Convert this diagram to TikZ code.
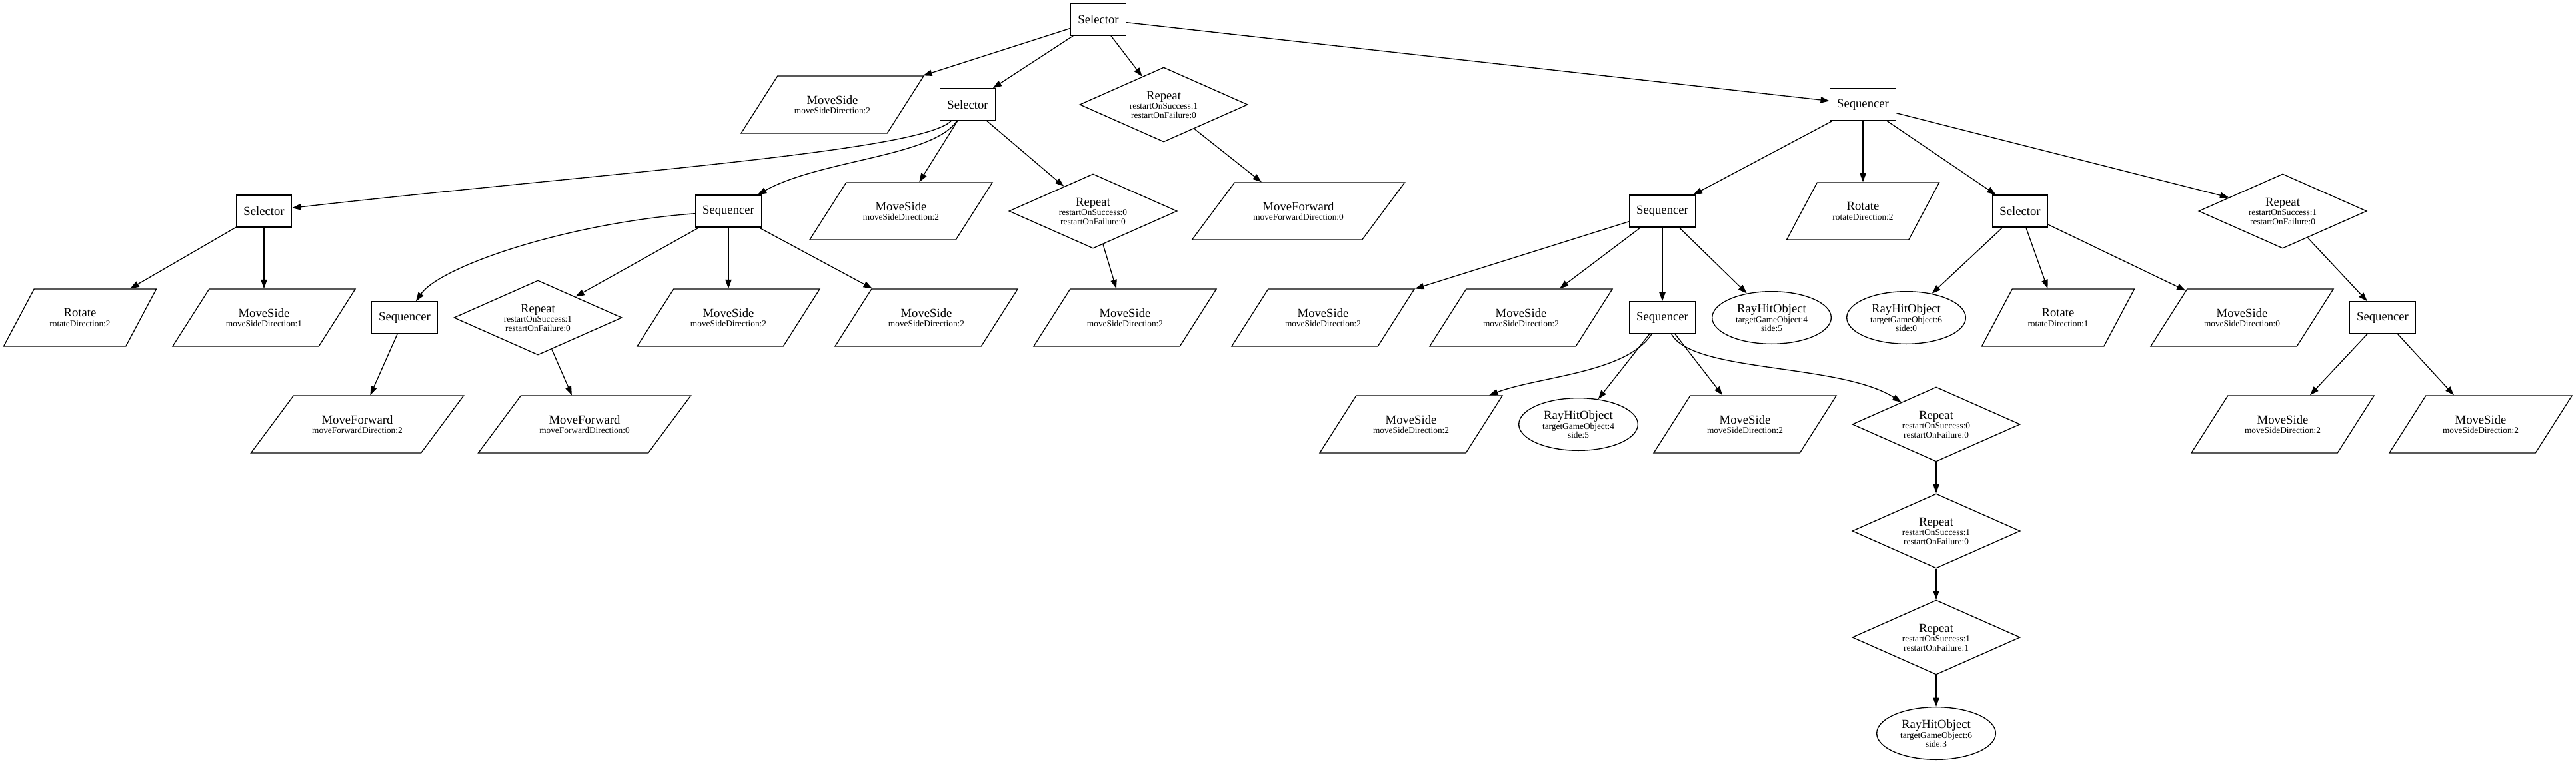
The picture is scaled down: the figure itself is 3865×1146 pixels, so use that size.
\documentclass[tikz,border=0pt]{standalone}
\usepackage{fontspec}
\setmainfont{Liberation Serif}
\usetikzlibrary{shapes.geometric,arrows.meta}
\newcommand{\bigt}[1]{{\fontsize{14}{14}\selectfont #1}}
\newcommand{\plab}[2]{\vbox to 64.5pt{\vfil\halign{\hfil##\hfil\cr\bigt{#1}\cr\noalign{\vskip1pt}#2\cr}\vfil}}
\tikzset{
  gnode/.style={draw, line width=1pt, align=center, inner sep=0pt, font=\fontsize{10}{10}\selectfont},
  pnode/.style={draw, line width=1pt, inner sep=0pt, font=\fontsize{10}{10}\selectfont, trapezium, trapezium stretches body},
  boxn/.style={gnode, rectangle, minimum height=36pt, minimum width=54pt, inner xsep=8pt},
  diam/.style={gnode, diamond, aspect=2.25, minimum width=189pt, minimum height=84pt},
  ell/.style={gnode, ellipse, minimum width=134pt, minimum height=59pt},
  paraR/.style={pnode, trapezium left angle=62, trapezium right angle=118, minimum width=171.75pt},
  paraM/.style={pnode, trapezium left angle=57.5, trapezium right angle=122.5, minimum width=205.5pt},
  paraF/.style={pnode, trapezium left angle=53.4, trapezium right angle=126.6, minimum width=239.25pt},
  conn/.style={line width=1pt, -{Triangle[length=10pt,width=7pt]}}
}
\begin{document}
\begin{tikzpicture}[x=0.75pt,y=-0.75pt]
\fill[white] (0,0) rectangle (3865,1146);
\useasboundingbox (0,0) rectangle (3865,1146);
% rank 0
\node[boxn] (n0) at (1648,29) {\bigt{Selector}};
% rank 1
\node[paraM] (n1) at (1249,157) {\plab{MoveSide}{moveSideDirection:2}};
\node[boxn] (n2) at (1452,157) {\bigt{Selector}};
\node[diam] (n3) at (1746,157) {\bigt{Repeat}\\[1pt]restartOnSuccess:1\\restartOnFailure:0};
\node[boxn] (n4) at (2795,157) {\bigt{Sequencer}};
% rank 2
\node[boxn] (n5) at (396,317) {\bigt{Selector}};
\node[boxn] (n6) at (1093,317) {\bigt{Sequencer}};
\node[paraM] (n7) at (1352,317) {\plab{MoveSide}{moveSideDirection:2}};
\node[diam] (n8) at (1640,317) {\bigt{Repeat}\\[1pt]restartOnSuccess:0\\restartOnFailure:0};
\node[paraF] (n9) at (1948,317) {\plab{MoveForward}{moveForwardDirection:0}};
\node[boxn] (n10) at (2494,317) {\bigt{Sequencer}};
\node[paraR] (n11) at (2795,317) {\plab{Rotate}{rotateDirection:2}};
\node[boxn] (n12) at (3031,317) {\bigt{Selector}};
\node[diam] (n13) at (3425,317) {\bigt{Repeat}\\[1pt]restartOnSuccess:1\\restartOnFailure:0};
% rank 3
\node[paraR] (n14) at (120,477) {\plab{Rotate}{rotateDirection:2}};
\node[paraM] (n15) at (396,477) {\plab{MoveSide}{moveSideDirection:1}};
\node[boxn] (n16) at (607,477) {\bigt{Sequencer}};
\node[diam] (n17) at (807,477) {\bigt{Repeat}\\[1pt]restartOnSuccess:1\\restartOnFailure:0};
\node[paraM] (n18) at (1093,477) {\plab{MoveSide}{moveSideDirection:2}};
\node[paraM] (n19) at (1390,477) {\plab{MoveSide}{moveSideDirection:2}};
\node[paraM] (n20) at (1688,477) {\plab{MoveSide}{moveSideDirection:2}};
\node[paraM] (n21) at (1985,477) {\plab{MoveSide}{moveSideDirection:2}};
\node[paraM] (n22) at (2282,477) {\plab{MoveSide}{moveSideDirection:2}};
\node[boxn] (n23) at (2494,477) {\bigt{Sequencer}};
\node[ell] (n24) at (2658,477) {\bigt{RayHitObject}\\[1pt]targetGameObject:4\\side:5};
\node[ell] (n25) at (2860,477) {\bigt{RayHitObject}\\[1pt]targetGameObject:6\\side:0};
\node[paraR] (n26) at (3088,477) {\plab{Rotate}{rotateDirection:1}};
\node[paraM] (n27) at (3364,477) {\plab{MoveSide}{moveSideDirection:0}};
\node[boxn] (n28) at (3575,477) {\bigt{Sequencer}};
% rank 4
\node[paraF] (n29) at (536,637) {\plab{MoveForward}{moveForwardDirection:2}};
\node[paraF] (n30) at (877,637) {\plab{MoveForward}{moveForwardDirection:0}};
\node[paraM] (n31) at (2117,637) {\plab{MoveSide}{moveSideDirection:2}};
\node[ell] (n32) at (2368,637) {\bigt{RayHitObject}\\[1pt]targetGameObject:4\\side:5};
\node[paraM] (n33) at (2618,637) {\plab{MoveSide}{moveSideDirection:2}};
\node[diam] (n34) at (2905,637) {\bigt{Repeat}\\[1pt]restartOnSuccess:0\\restartOnFailure:0};
\node[paraM] (n35) at (3425,637) {\plab{MoveSide}{moveSideDirection:2}};
\node[paraM] (n36) at (3722,637) {\plab{MoveSide}{moveSideDirection:2}};
% ranks 5-7
\node[diam] (n37) at (2905,797) {\bigt{Repeat}\\[1pt]restartOnSuccess:1\\restartOnFailure:0};
\node[diam] (n38) at (2905,957) {\bigt{Repeat}\\[1pt]restartOnSuccess:1\\restartOnFailure:1};
\node[ell] (n39) at (2905,1101) {\bigt{RayHitObject}\\[1pt]targetGameObject:6\\side:3};
% edges
\draw[conn] (n0) -- (n1);
\draw[conn] (n0) -- (n2);
\draw[conn] (n0) -- (n3);
\draw[conn] (n0) -- (n4);
\draw[conn] (n2) .. controls (1380,228) and (900,260) .. (n5);
\draw[conn] (n2) .. controls (1400,235) and (1230,240) .. (n6);
\draw[conn] (n2) -- (n7);
\draw[conn] (n2) -- (n8);
\draw[conn] (n3) -- (n9);
\draw[conn] (n4) -- (n10);
\draw[conn] (n4) -- (n11);
\draw[conn] (n4) -- (n12);
\draw[conn] (n4) -- (n13);
\draw[conn] (n5) -- (n14);
\draw[conn] (n5) -- (n15);
\draw[conn] (n6) .. controls (850,335) and (660,400) .. (n16);
\draw[conn] (n6) -- (n17);
\draw[conn] (n6) -- (n18);
\draw[conn] (n6) -- (n19);
\draw[conn] (n8) -- (n20);
\draw[conn] (n10) -- (n21);
\draw[conn] (n10) -- (n22);
\draw[conn] (n10) -- (n23);
\draw[conn] (n10) -- (n24);
\draw[conn] (n12) -- (n25);
\draw[conn] (n12) -- (n26);
\draw[conn] (n12) -- (n27);
\draw[conn] (n13) -- (n28);
\draw[conn] (n16) -- (n29);
\draw[conn] (n17) -- (n30);
\draw[conn] (n23) .. controls (2440,560) and (2310,565) .. (n31);
\draw[conn] (n23) -- (n32);
\draw[conn] (n23) -- (n33);
\draw[conn] (n23) .. controls (2540,560) and (2760,545) .. (n34);
\draw[conn] (n28) -- (n35);
\draw[conn] (n28) -- (n36);
\draw[conn] (n34) -- (n37);
\draw[conn] (n37) -- (n38);
\draw[conn] (n38) -- (n39);
\end{tikzpicture}
\end{document}
